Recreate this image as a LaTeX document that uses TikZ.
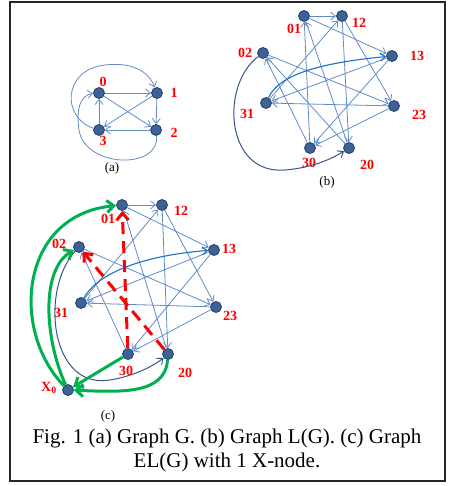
\documentclass[tikz,border=0pt]{standalone}
\usepackage{fontspec}
\setmainfont{Liberation Serif}
\usetikzlibrary{arrows.meta}
\definecolor{eblue}{RGB}{96,140,200}
\definecolor{cblue}{RGB}{25,115,200}
\definecolor{dblue}{RGB}{55,85,135}
\definecolor{nfill}{RGB}{60,98,152}
\definecolor{ndraw}{RGB}{38,62,102}
\definecolor{ggreen}{RGB}{0,176,80}
\definecolor{rred}{RGB}{255,0,0}
\begin{document}
\begin{tikzpicture}[x=1pt,y=-1pt,
  vtx/.style={circle,minimum size=11pt,inner sep=0pt,fill=nfill,draw=ndraw,line width=0.8pt},
  lbl/.style={text=rred,font=\bfseries\fontsize{14}{14}\selectfont,inner sep=0pt},
  sub/.style={font=\fontsize{13}{13}\selectfont,inner sep=0pt},
  edg/.style={draw=eblue,line width=0.8pt,-{Straight Barb[length=5pt,width=8pt]}},
  bcurve/.style={draw=cblue,line width=1.1pt,-{Straight Barb[length=5pt,width=8pt]}},
  dcurve/.style={draw=dblue,line width=1pt,-{Straight Barb[length=5pt,width=8pt]}},
  gedge/.style={draw=ggreen,line width=3pt,-{Straight Barb[length=7pt,width=12pt]}},
  redash/.style={draw=rred,line width=3pt,dash pattern=on 12pt off 7pt,-{Straight Barb[length=7pt,width=12pt]}}]
\useasboundingbox (0,0) rectangle (453,486);
\draw[line width=2pt,draw=black!85] (10,2) rectangle (445,481);

% ---------- (a) ----------
\node[vtx] (a0) at (99,93) {};
\node[vtx] (a1) at (157,93) {};
\node[vtx] (a2) at (156,130) {};
\node[vtx] (a3) at (99,130) {};
\node[lbl] (la0) at (103,82) {0};
\node[lbl] (la1) at (174,93) {1};
\node[lbl] (la2) at (174,133) {2};
\node[lbl] (la3) at (103,141) {3};
\draw[edg] (a0) -- (a1);
\draw[edg] (a1) -- (a2);
\draw[edg] (a2) -- (a3);
\draw[edg] (a3) -- (a0);
\draw[edg] (a0) -- (a2);
\draw[edg] (a1) -- (a3);
\draw[edg] (a3) .. controls (62,118) and (62,70) .. (105,65) .. controls (130,62) and (148,70) .. (a1);
\draw[edg] (a2) .. controls (160,170) and (85,168) .. (79,130) .. controls (76,110) and (80,95) .. (a0);
\node[sub] (capa) at (112,168) {(a)};

% ---------- (b) ----------
\node[vtx] (b01) at (304,16) {};
\node[vtx] (b12) at (342,16) {};
\node[vtx] (b13) at (392,56) {};
\node[vtx] (b23) at (394,106) {};
\node[vtx] (b20) at (349,148) {};
\node[vtx] (b30) at (310,148) {};
\node[vtx] (b31) at (266,103) {};
\node[vtx] (b02) at (263,53) {};
\node[lbl] at (294,29) {01};
\node[lbl] at (359,23) {12};
\node[lbl] at (245,53) {02};
\node[lbl] at (417,56) {13};
\node[lbl] at (247,114) {31};
\node[lbl] at (419,115) {23};
\node[lbl] at (309,163) {30};
\node[lbl] at (367,165) {20};
\node[sub] (capb) at (327,182) {(b)};
\foreach \s/\t in {01/12,01/13,02/23,12/23,12/20,13/30,13/31,23/30,23/31,30/01,30/02,31/12,20/01,20/02}
  \draw[edg] (b\s) -- (b\t);
\draw[dcurve] (b02) .. controls (220,85) and (225,175) .. (285,170) .. controls (310,168) and (330,160) .. (b20);
\draw[bcurve] (b31) .. controls (280,72) and (330,62) .. (b13);

% ---------- (c) ----------
\node[vtx] (c01) at (122,205) {};
\node[vtx] (c12) at (162,205) {};
\node[vtx] (c02) at (79,247) {};
\node[vtx] (c13) at (214,250) {};
\node[vtx] (c31) at (81,303) {};
\node[vtx] (c23) at (216,307) {};
\node[vtx] (c30) at (128,354) {};
\node[vtx] (c20) at (168,354) {};
\node[vtx] (cx) at (68,390) {};
\node[lbl] at (108,219) {01};
\node[lbl] at (181,211) {12};
\node[lbl] at (59,244) {02};
\node[lbl] at (229,249) {13};
\node[lbl] at (61,313) {31};
\node[lbl] at (230,316) {23};
\node[lbl] at (126,371) {30};
\node[lbl] at (185,373) {20};
\node[lbl] at (49,388) {X\textsubscript{0}};
\node[sub] (capc) at (108,416) {(c)};
\foreach \s/\t in {01/12,01/13,02/23,12/23,12/20,13/30,13/31,23/30,23/31,30/02,31/12,20/01}
  \draw[edg] (c\s) -- (c\t);
\draw[dcurve] (c02) .. controls (40,290) and (50,390) .. (110,380) .. controls (135,376) and (155,365) .. (c20);
\draw[bcurve] (c31) .. controls (100,270) and (150,255) .. (c13);
\draw[redash] (c30) -- (c01);
\draw[redash] (c20) -- (c02);
\draw[gedge] (cx) .. controls (10,330) and (20,215) .. (c01);
\draw[gedge] (cx) .. controls (45,340) and (40,270) .. (c02);
\draw[gedge] (c30) -- (cx);
\draw[gedge] (c20) .. controls (165,395) and (120,392) .. (cx);

% ---------- caption ----------
\node[align=center,font=\fontsize{21}{24}\selectfont,inner sep=0pt] (cap) at (227,450)
  {Fig. 1 (a) Graph G. (b) Graph L(G). (c) Graph\\EL(G) with 1 X-node.};
\end{tikzpicture}
\end{document}
